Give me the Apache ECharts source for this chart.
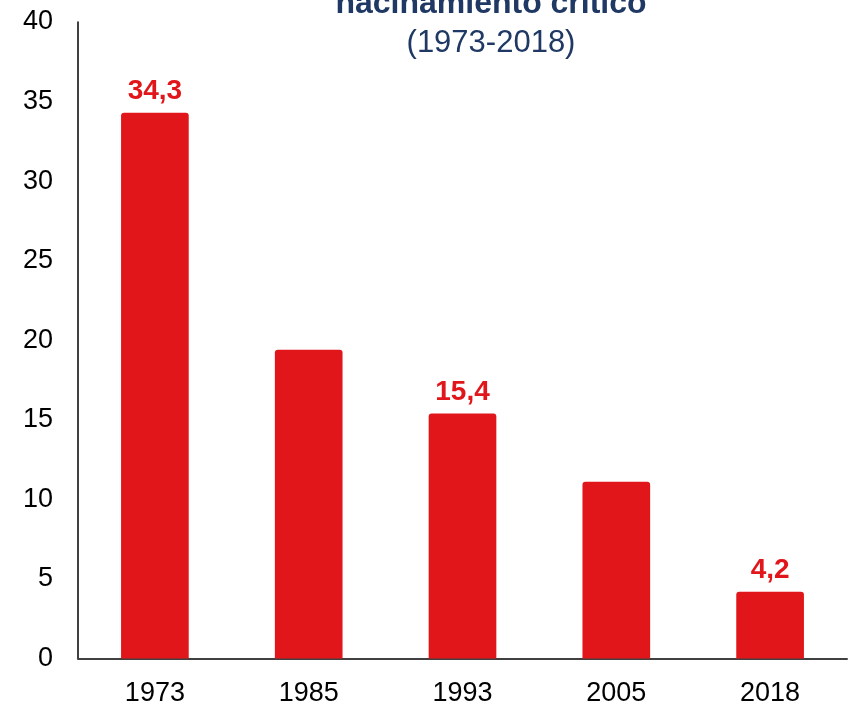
<!DOCTYPE html>
<html>
<head>
<meta charset="utf-8">
<script src="https://cdn.jsdelivr.net/npm/echarts@6/dist/echarts.min.js"></script>
<style>html,body{margin:0;padding:0;background:#fff}#c{width:849px;height:708px}</style>
</head>
<body>
<div id="c"></div>
<script>
const categories = ['1973', '1985', '1993', '2005', '2018'];
const values = [34.3, 19.4, 15.4, 11.1, 4.2];
const showLabel = [true, false, true, false, true];
const yTicks = { min: 0, max: 40, interval: 5 };
const titleText = 'hacinamiento crítico';
const subtitleText = '(1973-2018)';

const FONT = '"Liberation Sans", Arial, sans-serif';
const RED = '#E1161A';
const NAVY = '#1F3864';

const chart = echarts.init(document.getElementById('c'), null, { renderer: 'canvas' });
chart.setOption({
  animation: false,
  backgroundColor: '#fff',
  grid: { left: 78, right: 2, top: 22, bottom: 49.5, containLabel: false },
  graphic: [
    { type: 'text', x: 491, y: 4, style: { text: titleText, font: 'bold 32px ' + FONT, fill: NAVY, textAlign: 'center', textVerticalAlign: 'middle' } },
    { type: 'text', x: 491, y: 43, style: { text: subtitleText, font: '31px ' + FONT, fill: NAVY, textAlign: 'center', textVerticalAlign: 'middle' } }
  ],
  xAxis: {
    type: 'category',
    data: categories,
    axisLine: { show: true, lineStyle: { color: '#404040', width: 2 } },
    axisTick: { show: false },
    axisLabel: { color: '#000', fontSize: 27, fontFamily: FONT, margin: 22 }
  },
  yAxis: {
    type: 'value',
    min: yTicks.min, max: yTicks.max, interval: yTicks.interval,
    axisLine: { show: true, lineStyle: { color: '#000', width: 1.5 } },
    axisTick: { show: false },
    splitLine: { show: false },
    axisLabel: { color: '#000', fontSize: 27, fontFamily: FONT, margin: 25 }
  },
  series: [{
    type: 'bar',
    barWidth: '44%',
    data: values.map((v, i) => ({
      value: v,
      label: {
        show: showLabel[i],
        position: 'top',
        distance: 7,
        color: RED,
        fontWeight: 'bold',
        fontSize: 28,
        fontFamily: FONT,
        formatter: (p) => String(p.value).replace('.', ',')
      }
    })),
    itemStyle: { color: RED, borderRadius: [3, 3, 0, 0] }
  }]
});
</script>
</body>
</html>
